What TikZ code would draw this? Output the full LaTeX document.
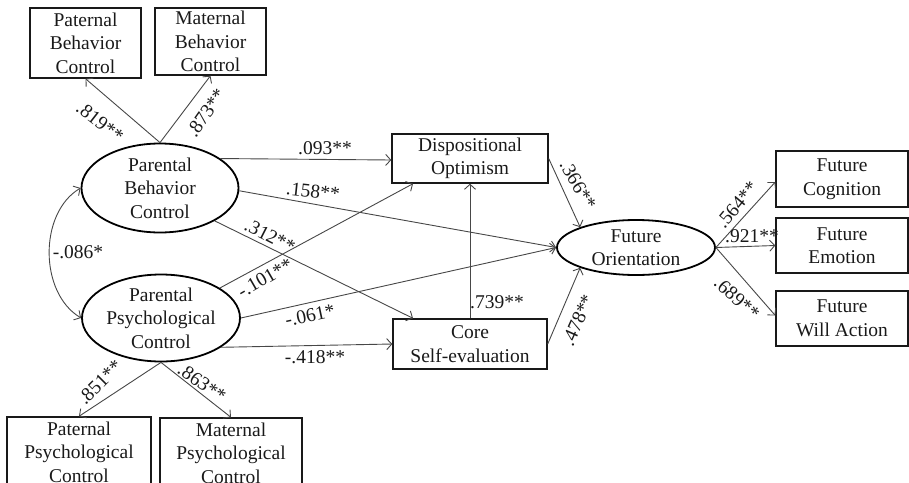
\documentclass[tikz,border=0pt]{standalone}
\usepackage{fontspec}
\setmainfont{Liberation Serif}
\usetikzlibrary{arrows.meta,shapes.geometric}
\begin{document}
\begin{tikzpicture}[x=1pt,y=-1pt,
  txt/.style={font=\fontsize{19.5}{23.5}\selectfont, text=black!90},
  box/.style={txt, draw=black!90, line width=1.4pt, rectangle, inner sep=0pt, align=center},
  lat/.style={txt, draw=black, line width=1.8pt, ellipse, inner sep=0pt, align=center},
  arr/.style={draw=black!72, line width=0.9pt, -{Straight Barb[length=5pt,width=11pt]}},
  darr/.style={draw=black!72, line width=0.9pt, {Straight Barb[length=5pt,width=11pt]}-{Straight Barb[length=5pt,width=11pt]}},
  lbl/.style={txt, inner sep=0pt}
]
\useasboundingbox (0,0) rectangle (909,482);

% observed indicators
\node[box, minimum width=111pt, minimum height=70pt] (pbcbox) at (85.5,43) {Paternal\\Behavior\\Control};
\node[box, minimum width=111pt, minimum height=67pt] (mbcbox) at (210.5,41.5) {Maternal\\Behavior\\Control};
\node[box, minimum width=144pt, minimum height=70pt] (ppcbox) at (79,452) {Paternal\\Psychological\\Control};
\node[box, minimum width=142pt, minimum height=70pt] (mpcbox) at (231,453) {Maternal\\Psychological\\Control};

% latent variables
\node[lat, minimum width=157pt, minimum height=89pt] (pbc) at (160,188) {Parental\\Behavior\\Control};
\node[lat, minimum width=158pt, minimum height=87pt] (ppc) at (161,318) {Parental\\Psychological\\Control};
\node[lat, minimum width=158pt, minimum height=55pt] (fo) at (636,247.5) {Future\\Orientation};

% mediators
\node[box, minimum width=156pt, minimum height=49pt] (do) at (470,158.5) {Dispositional\\Optimism};
\node[box, minimum width=154pt, minimum height=50pt] (cse) at (470,344) {Core\\Self-evaluation};

% outcomes
\node[box, minimum width=132pt, minimum height=56pt] (fc) at (842,179) {Future\\Cognition};
\node[box, minimum width=132pt, minimum height=55pt] (fe) at (842,245.5) {Future\\Emotion};
\node[box, minimum width=132pt, minimum height=55pt] (fwa) at (842,318.5) {Future\\Will Action};

% measurement arrows
\draw[arr] (pbc.north) -- (pbcbox.south);
\draw[arr] (pbc.north) -- (mbcbox.south);
\draw[arr] (ppc.south) -- (ppcbox.north);
\draw[arr] (ppc.south) -- (mpcbox.north);
\draw[arr] (fo.east) -- ([yshift=-3pt]fc.west);
\draw[arr] (fo.east) -- (fe.west);
\draw[arr] (fo.east) -- ([yshift=3pt]fwa.west);

% structural arrows
\draw[arr] (pbc.26) -- ([yshift=-1.5pt]do.west);
\draw[arr] (pbc.-2) -- (fo.west);
\draw[arr] (pbc.-31) -- ([xshift=-57pt]cse.north);
\draw[arr] (ppc.27) -- ([xshift=-57pt]do.south);
\draw[arr] (ppc.east) -- (fo.west);
\draw[arr] (ppc.-26) -- (cse.west);
\draw[arr] (cse.north) -- (do.south);
\draw[arr] (do.east) -- (fo.160);
\draw[arr] (cse.east) -- (fo.200);

% covariance
\draw[darr] (pbc.west) .. controls +(-42,25) and +(-42,-25) .. (ppc.west);

% labels
\node[lbl, rotate=-38] (l1) at (100,122) {.819**};
\node[lbl, rotate=55] (l2) at (206,113) {.873**};
\node[lbl] (l3) at (78,252) {-.086*};
\node[lbl] (l4) at (325,148) {.093**};
\node[lbl, rotate=-6] (l5) at (313,191) {.158**};
\node[lbl, rotate=-27] (l6) at (270,236) {.312**};
\node[lbl, rotate=30] (l7) at (265,278) {-.101**};
\node[lbl, rotate=12] (l8) at (310,315) {-.061*};
\node[lbl] (l9) at (315,357) {-.418**};
\node[lbl] (l10) at (497,302) {.739**};
\node[lbl, rotate=-60] (l11) at (578,185) {.366**};
\node[lbl, rotate=66] (l12) at (578,320) {.478**};
\node[lbl, rotate=50] (l13) at (737,205) {.564**};
\node[lbl] (l14) at (752,236) {.921**};
\node[lbl, rotate=-42] (l15) at (737,298) {.689**};
\node[lbl, rotate=45] (l16) at (100,382) {.851**};
\node[lbl, rotate=-35] (l17) at (202,383) {.863**};
\end{tikzpicture}
\end{document}
